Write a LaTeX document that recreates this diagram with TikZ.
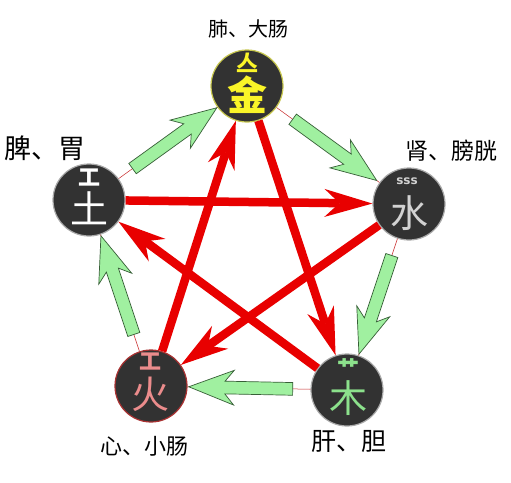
\documentclass[tikz,border=0pt]{standalone}
\usepackage{fontspec}
\newfontfamily\cjk{Noto Sans CJK SC}
\newfontfamily\dejavu{DejaVu Sans}
\usetikzlibrary{arrows.meta,shapes.arrows}
\definecolor{disc}{RGB}{50,50,50}
\definecolor{leaf}{RGB}{160,240,160}
\definecolor{leafline}{RGB}{55,95,55}
\definecolor{fire}{RGB}{232,0,0}
\definecolor{thinred}{RGB}{200,40,40}
\definecolor{goldtxt}{RGB}{250,245,40}
\definecolor{goldrim}{RGB}{200,200,80}
\definecolor{watertxt}{RGB}{210,210,210}
\definecolor{woodtxt}{RGB}{140,225,140}
\definecolor{firetxt}{RGB}{235,140,140}
\definecolor{firerim}{RGB}{170,50,50}
\definecolor{greyrim}{RGB}{170,170,170}
\begin{document}
\begin{tikzpicture}[x=1pt,y=-1pt,
  element/.style={circle, fill=disc, minimum size=72pt, inner sep=0pt, line width=1.2pt},
  organ/.style={inner sep=0pt, text=black},
  glyph/.style={inner sep=0pt},
  ke/.style={draw=fire, line width=8.5pt, -{Stealth[length=48pt,width=28pt,inset=15pt,line width=0pt]}},
  link/.style={draw=thinred, line width=0.5pt},
  sheng/.style={single arrow, sloped, allow upside down, draw=leafline, fill=leaf,
    line width=0.7pt, minimum height=104pt, single arrow head extend=11pt,
    single arrow tip angle=42, single arrow head indent=9pt, inner xsep=0pt,
    inner ysep=6pt, text height=0pt, text depth=0pt, minimum width=0pt},
]
\useasboundingbox (0,0) rectangle (511,482);
\fill[white] (0,0) rectangle (511,482);

% elements
\node[element, draw=goldrim] (jin) at (247,86) {};
\node[element, draw=greyrim] (shui) at (409,204) {};
\node[element, draw=greyrim] (mu) at (347,390) {};
\node[element, draw=firerim] (huo) at (151,386) {};
\node[element, draw=greyrim] (tu) at (89,200) {};

% glyphs
\node[glyph, text=goldtxt, font={\cjk\bfseries\fontsize{40}{40}\selectfont}] (jinmain) at (247,95) {金};
\node[glyph, text=goldtxt, font={\cjk\bfseries\fontsize{22}{22}\selectfont}] (jinmark) at (247,63) {亼};
\node[glyph, text=watertxt, font={\cjk\fontsize{38}{38}\selectfont}] (shuimain) at (409,213) {水};
\node[glyph, text=watertxt, font={\dejavu\bfseries\fontsize{12}{12}\selectfont}] (shuimark) at (407,181) {sss};
\node[glyph, text=white, font={\cjk\fontsize{38}{38}\selectfont}] (tumain) at (89,208) {土};
\node[glyph, text=white, font={\cjk\bfseries\fontsize{22}{22}\selectfont}] (tumark) at (89,178) {工};
\node[glyph, text=woodtxt, font={\cjk\fontsize{38}{38}\selectfont}] (mumain) at (348,398) {木};
\node[glyph, text=woodtxt, font={\cjk\bfseries\fontsize{22}{22}\selectfont}] (mumark) at (348,368) {艹};
\node[glyph, text=firetxt, font={\cjk\fontsize{38}{38}\selectfont}] (huomain) at (150,394) {火};
\node[glyph, text=firetxt, font={\cjk\bfseries\fontsize{22}{22}\selectfont}] (huomark) at (150,362) {工};

% organ labels
\node[organ, font={\cjk\fontsize{20}{20}\selectfont}] (jinlabel) at (248,29) {肺、大肠};
\node[organ, font={\cjk\fontsize{23}{23}\selectfont}] (shuilabel) at (451,151) {肾、膀胱};
\node[organ, font={\cjk\fontsize{27}{27}\selectfont}] (tulabel) at (45,148) {脾、胃};
\node[organ, font={\cjk\fontsize{25}{25}\selectfont}] (mulabel) at (349,441) {肝、胆};
\node[organ, font={\cjk\fontsize{22}{22}\selectfont}] (huolabel) at (144,446) {心、小肠};

% generating cycle (green)
\path[link] (jin) -- node[sheng] (s1) {} (shui);
\path[link] (shui) -- node[sheng] (s2) {} (mu);
\path[link] (mu) -- node[sheng] (s3) {} (huo);
\path[link] (huo) -- node[sheng] (s4) {} (tu);
\path[link] (tu) -- node[sheng] (s5) {} (jin);

% controlling cycle (red)
\draw[ke] (tu) -- (shui);
\draw[ke] (shui) -- (huo);
\draw[ke] (mu) -- (tu);
\draw[ke] (huo) -- (jin);
\draw[ke] (jin) -- (mu);
\end{tikzpicture}
\end{document}
